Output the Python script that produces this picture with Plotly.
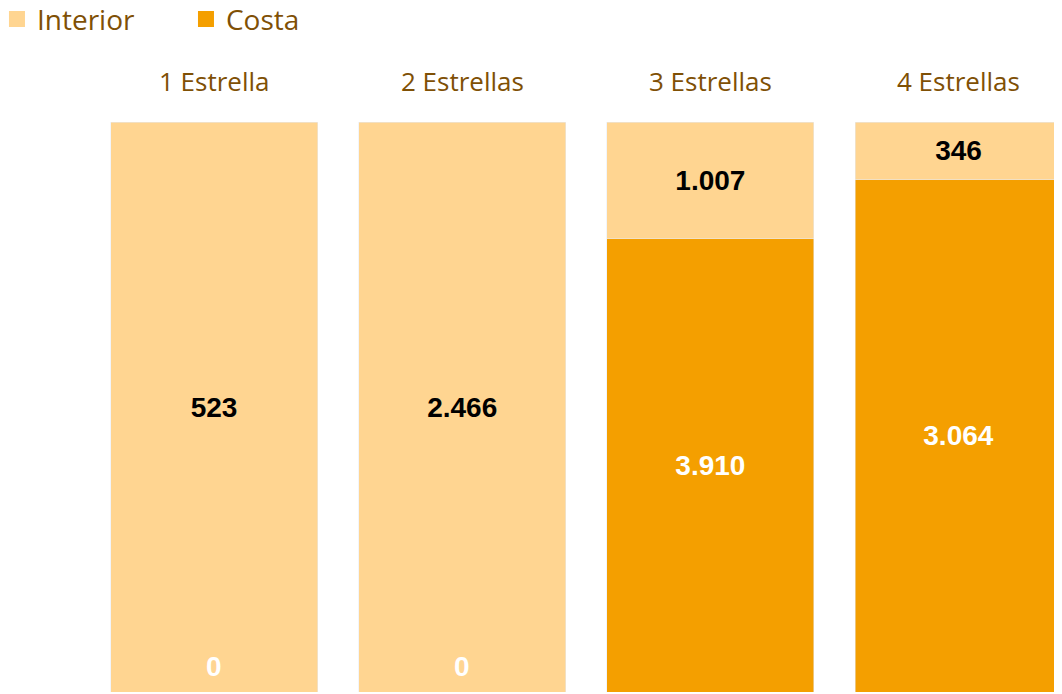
import plotly.graph_objects as go

categories = ["1 Estrella", "2 Estrellas", "3 Estrellas", "4 Estrellas"]
interior = [523, 2466, 1007, 346]
costa = [0, 0, 3910, 3064]

C_INT = "#FFD591"
C_COS = "#F49F00"
BROWN = "#7F5005"


def fmt(v):
    return f"{v:,}".replace(",", ".")


xs = list(range(len(categories)))
LBL = dict(family="Liberation Sans", size=28, weight="bold")

fig = go.Figure()
fig.add_trace(go.Bar(
    x=xs, y=costa, name="Costa", marker_color=C_COS, width=0.834,
    text=[fmt(v) if v else "" for v in costa], textposition="inside",
    insidetextanchor="middle", textfont=dict(LBL, color="white"),
    hoverinfo="skip", showlegend=False,
))
fig.add_trace(go.Bar(
    x=xs, y=interior, name="Interior", marker_color=C_INT, width=0.834,
    text=[fmt(v) for v in interior], textposition="inside",
    insidetextanchor="middle", textfont=dict(LBL, color="black"),
    hoverinfo="skip", showlegend=False,
))
# legend entries (square swatches)
for name, col in [("Interior", C_INT), ("Costa", C_COS)]:
    fig.add_trace(go.Scatter(
        x=[None], y=[None], mode="markers", name=name,
        marker=dict(symbol="square", size=20, color=col), hoverinfo="skip",
    ))

annotations = []
for i, v in enumerate(costa):
    if v == 0:
        annotations.append(dict(
            x=i, y=0, xref="x", yref="y", text=fmt(v), showarrow=False,
            yanchor="middle", yshift=26, font=dict(LBL, color="white"),
        ))
for i, c in enumerate(categories):
    annotations.append(dict(
        x=i, y=1, xref="x", yref="paper", text=c, showarrow=False,
        yanchor="middle", yshift=41,
        font=dict(family="Open Sans", size=26, color=BROWN),
    ))

fig.update_layout(
    width=1054, height=684,
    barmode="stack", barnorm="percent",
    plot_bgcolor="white", paper_bgcolor="white",
    margin=dict(l=82, r=0, t=114, b=0, autoexpand=False),
    xaxis=dict(range=[-0.5, 3.417], showticklabels=False, showgrid=False,
               zeroline=False, showline=False, ticks=""),
    yaxis=dict(range=[0, 100], visible=False),
    uniformtext=dict(minsize=8, mode="show"),
    legend=dict(orientation="h", x=-0.0957, xanchor="left", xref="paper",
                y=1.2239, yanchor="top", yref="paper", traceorder="normal",
                font=dict(family="Open Sans", size=28, color=BROWN),
                itemwidth=30, itemsizing="trace", entrywidth=144,
                entrywidthmode="pixels", bgcolor="rgba(0,0,0,0)"),
    annotations=annotations,
    showlegend=True,
)

fig.write_html("out.html")
